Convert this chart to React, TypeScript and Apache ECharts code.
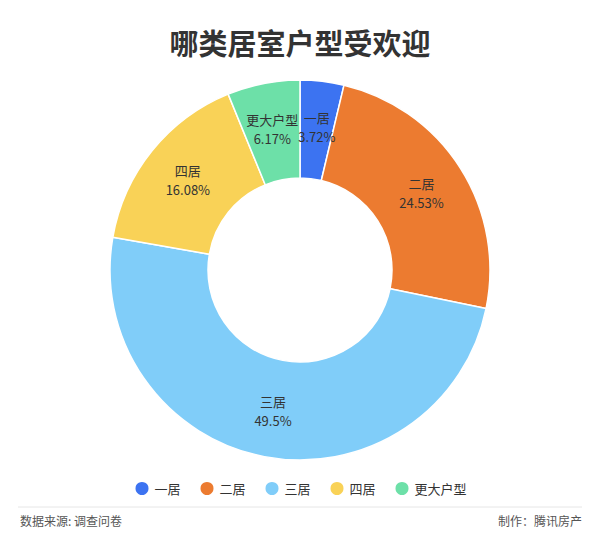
import React, { useEffect, useRef } from "react";
import * as echarts from "echarts";

const categories = ["一居", "二居", "三居", "四居", "更大户型"];
const values = [3.72, 24.53, 49.5, 16.08, 6.17];
const colors = ["#3c73f1", "#ec7b30", "#80cdf9", "#f9d257", "#6de0a8"];
const titleText = "哪类居室户型受欢迎";
const sourceText = "数据来源: 调查问卷";
const makerText = "制作：腾讯房产";

export default function App() {
  const ref = useRef<HTMLDivElement>(null);
  useEffect(() => {
    const chart = echarts.init(ref.current!, null, { renderer: "svg" });
    const font = "'Noto Sans CJK SC', 'Noto Sans', sans-serif";
    chart.setOption({
      animation: false,
      backgroundColor: "#ffffff",
      textStyle: { fontFamily: font },
      title: {
        text: titleText,
        left: "center",
        top: 22,
        textStyle: { fontSize: 29, fontWeight: "bold", color: "#333333", fontFamily: font },
      },
      legend: {
        bottom: 38,
        left: "center",
        icon: "circle",
        itemWidth: 15,
        itemHeight: 15,
        itemGap: 18,
        textStyle: { fontSize: 13, color: "#333333", fontFamily: font },
        data: categories,
      },
      graphic: [
        {
          type: "line",
          shape: { x1: 18, y1: 507, x2: 582, y2: 507 },
          style: { stroke: "#e6e6e6", lineWidth: 1 },
        },
        {
          type: "text",
          left: 20,
          top: 514,
          style: { text: sourceText, fontSize: 12, fill: "#555555", fontFamily: font },
        },
        {
          type: "text",
          right: 18,
          top: 514,
          style: { text: makerText, fontSize: 12, fill: "#555555", fontFamily: font },
        },
      ],
      series: [
        {
          type: "pie",
          center: [300, 270],
          radius: [92, 190],
          startAngle: 90,
          clockwise: true,
          color: colors,
          itemStyle: { borderColor: "#ffffff", borderWidth: 1.5 },
          label: {
            show: true,
            position: "inside",
            formatter: "{b}\n{d}%",
            color: "#333333",
            fontSize: 13,
            lineHeight: 19,
            fontFamily: font,
          },
          labelLine: { show: false },
          data: categories.map((c, i) => ({ name: c, value: values[i] })),
        },
      ],
    });
    return () => chart.dispose();
  }, []);
  return (
    <div
      ref={ref}
      style={{ width: 600, height: 540, position: "absolute", left: 0, top: 0 }}
    />
  );
}
